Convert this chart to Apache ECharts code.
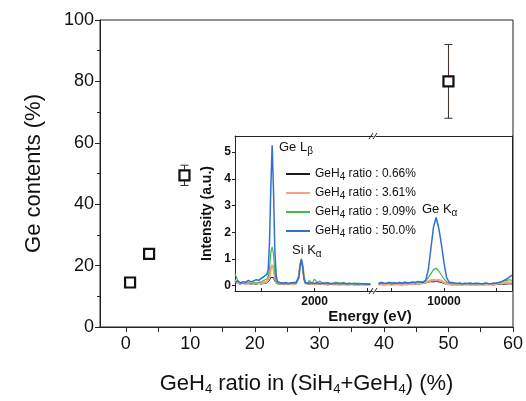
<!DOCTYPE html>
<html>
<head>
<meta charset="utf-8">
<script src="https://cdn.jsdelivr.net/npm/echarts@6/dist/echarts.min.js"></script>
<style>
    html, body { margin: 0; padding: 0; background: #fff; }
    #chart-container { width: 526px; height: 401px; }
</style>
</head>
<body>
<div id="chart-container"></div>
<script>
// main plot: Ge content vs GeH4 ratio
var ratioValues = [0.66, 3.61, 9.09, 50.0];
var geContents = [14.5, 23.8, 49.4, 80.0];
var geErrors = [0, 0, 3.3, 12];

var xTickValues = [0, 5, 10, 15, 20, 25, 30, 35, 40, 45, 50, 55, 60];
var xLabelValues = [0, 10, 20, 30, 40, 50, 60];

// inset: EDX spectra, axis broken between 3100 and 8700 eV
var spectraNames = ['GeH4 ratio : 0.66%', 'GeH4 ratio : 3.61%', 'GeH4 ratio : 9.09%', 'GeH4 ratio : 50.0%'];
var spectraColors = ['#1c1c1c', '#f6a383', '#3fba4e', '#2f6fd6'];
var spectraWidths = [1, 2.2, 1.2, 1.5];

var insetYValues = [0, 1, 2, 3, 4, 5];

var leftEnergy = [500, 550, 600, 650, 700, 750, 800, 850, 900, 950, 1000, 1050,
    1075, 1100, 1125, 1150, 1175, 1200, 1225, 1250, 1275, 1300, 1325, 1350, 1375, 1400,
    1450, 1500, 1550, 1600,
    1625, 1650, 1675, 1700, 1725, 1750, 1775, 1800, 1825, 1850, 1875, 1900,
    1950, 2000, 2050, 2100, 2150, 2200, 2250, 2300, 2350, 2400, 2450, 2500, 2550, 2600, 2650, 2700, 2750, 2800, 2850, 2900, 2950, 3000, 3050];

var leftBlack = [0.15, 0.08, 0.06, 0.09, 0.05, 0.08, 0.06, 0.07, 0.05, 0.08, 0.06, 0.09,
    0.08, 0.10, 0.12, 0.20, 0.31, 0.36, 0.30, 0.17, 0.09, 0.05, 0.06, 0.04, 0.05, 0.06,
    0.05, 0.04, 0.06, 0.05,
    0.06, 0.07, 0.12, 0.35, 0.80, 1.00, 0.70, 0.25, 0.08, 0.05, 0.06, 0.04,
    0.05, 0.04, 0.06, 0.05, 0.04, 0.05, 0.03, 0.05, 0.04, 0.05, 0.03, 0.04, 0.05, 0.03, 0.04, 0.05, 0.03, 0.04, 0.03, 0.04, 0.03, 0.04, 0.03];
var leftOrange = [0.20, 0.10, 0.08, 0.10, 0.06, 0.09, 0.07, 0.10, 0.08, 0.10, 0.09, 0.12,
    0.10, 0.14, 0.20, 0.35, 0.64, 0.78, 0.66, 0.34, 0.12, 0.06, 0.08, 0.05, 0.07, 0.06,
    0.08, 0.05, 0.07, 0.06,
    0.08, 0.07, 0.10, 0.30, 0.75, 1.00, 0.75, 0.30, 0.10, 0.06, 0.08, 0.05,
    0.07, 0.05, 0.08, 0.06, 0.07, 0.05, 0.06, 0.07, 0.05, 0.06, 0.04, 0.06, 0.05, 0.07, 0.04, 0.06, 0.05, 0.04, 0.06, 0.05, 0.04, 0.05, 0.04];
var leftGreen = [0.45, 0.20, 0.10, 0.08, 0.12, 0.10, 0.07, 0.12, 0.10, 0.12, 0.15, 0.20,
    0.18, 0.25, 0.34, 0.65, 1.25, 1.45, 1.20, 0.55, 0.18, 0.08, 0.12, 0.06, 0.10, 0.08,
    0.10, 0.06, 0.12, 0.08,
    0.10, 0.08, 0.12, 0.28, 0.70, 0.95, 0.72, 0.28, 0.12, 0.10, 0.08, 0.20,
    0.08, 0.25, 0.10, 0.18, 0.07, 0.12, 0.06, 0.10, 0.08, 0.14, 0.06, 0.10, 0.12, 0.07, 0.10, 0.08, 0.06, 0.10, 0.07, 0.09, 0.06, 0.08, 0.05];
var leftBlue = [0.12, 0.18, 0.10, 0.15, 0.12, 0.20, 0.14, 0.18, 0.22, 0.20, 0.28, 0.35,
    0.32, 0.42, 0.60, 1.60, 3.70, 5.25, 3.60, 1.35, 0.40, 0.15, 0.10, 0.12, 0.08, 0.10,
    0.12, 0.08, 0.10, 0.12,
    0.10, 0.12, 0.15, 0.30, 0.72, 0.98, 0.70, 0.25, 0.10, 0.08, 0.10, 0.06,
    0.10, 0.08, 0.12, 0.07, 0.10, 0.08, 0.11, 0.06, 0.09, 0.08, 0.10, 0.07, 0.09, 0.06, 0.08, 0.07, 0.09, 0.05, 0.08, 0.06, 0.07, 0.05, 0.06];

var rightEnergy = [8750, 8800, 8850, 8900, 8950, 9000, 9050, 9100, 9150, 9200,
    9250, 9300, 9350, 9400, 9450, 9500, 9550, 9600, 9650, 9700,
    9750, 9800, 9850, 9900, 9950, 10000, 10050, 10100, 10150, 10200,
    10250, 10300, 10350, 10400, 10450, 10500, 10550, 10600, 10650, 10700,
    10750, 10800, 10850, 10900, 10950, 11000, 11050, 11100, 11150, 11200,
    11250, 11300];

var rightBlack = [0.04, 0.05, 0.03, 0.04, 0.05, 0.03, 0.04, 0.05, 0.04, 0.03,
    0.05, 0.04, 0.05, 0.06, 0.05, 0.06, 0.07, 0.08, 0.10, 0.13,
    0.15, 0.14, 0.16, 0.14, 0.12, 0.08, 0.06, 0.04, 0.03, 0.04,
    0.03, 0.04, 0.03, 0.04, 0.05, 0.03, 0.04, 0.03, 0.04, 0.05,
    0.03, 0.04, 0.05, 0.04, 0.03, 0.04, 0.05, 0.06, 0.05, 0.06,
    0.07, 0.06];
var rightOrange = [0.05, 0.06, 0.04, 0.05, 0.06, 0.04, 0.05, 0.06, 0.05, 0.04,
    0.06, 0.05, 0.07, 0.06, 0.08, 0.07, 0.09, 0.10, 0.12, 0.16,
    0.20, 0.22, 0.20, 0.22, 0.18, 0.12, 0.08, 0.06, 0.05, 0.04,
    0.05, 0.04, 0.06, 0.05, 0.04, 0.05, 0.06, 0.04, 0.05, 0.04,
    0.05, 0.06, 0.04, 0.05, 0.06, 0.07, 0.08, 0.09, 0.10, 0.12,
    0.11, 0.12];
var rightGreen = [0.10, 0.07, 0.09, 0.08, 0.10, 0.06, 0.09, 0.08, 0.10, 0.07,
    0.09, 0.10, 0.08, 0.12, 0.10, 0.14, 0.12, 0.15, 0.18, 0.30,
    0.45, 0.60, 0.65, 0.55, 0.40, 0.25, 0.14, 0.10, 0.08, 0.07,
    0.09, 0.06, 0.08, 0.07, 0.09, 0.06, 0.08, 0.10, 0.07, 0.08,
    0.06, 0.09, 0.07, 0.08, 0.10, 0.09, 0.12, 0.14, 0.18, 0.20,
    0.22, 0.20];
var rightBlue = [0.08, 0.12, 0.10, 0.09, 0.12, 0.10, 0.11, 0.09, 0.12, 0.10,
    0.13, 0.11, 0.12, 0.14, 0.12, 0.16, 0.14, 0.12, 0.20, 0.60,
    1.40, 2.20, 2.55, 2.15, 1.55, 0.85, 0.30, 0.12, 0.12, 0.10,
    0.08, 0.10, 0.07, 0.09, 0.08, 0.10, 0.07, 0.08, 0.09, 0.07,
    0.08, 0.10, 0.08, 0.07, 0.09, 0.10, 0.12, 0.15, 0.20, 0.25,
    0.32, 0.40];

var FONT = '"Liberation Sans", Arial, sans-serif';

var chart;

$ready(function () {
    chart = echarts.init(document.getElementById('chart-container'), null, { renderer: 'canvas' });
    chart.setOption(buildOption());
});

function $ready(fn) {
    if (document.readyState !== 'loading') fn();
    else document.addEventListener('DOMContentLoaded', fn);
}

function pairs(xs, ys) {
    return xs.map(function (x, i) {
        return [x, ys[i]];
    });
}

function subscriptName(name) {
    // "GeH4 ratio : .." -> rich text with subscript 4
    return '{n|GeH}{s|4}{n|' + name.substring(4) + '}';
}

function plainNumber(value) {
    return String(value);
}

function renderErrorBar(params, api) {
    var x = api.value(0);
    var top = api.coord([x, api.value(2)]);
    var bottom = api.coord([x, api.value(1)]);
    var cap = 4;
    var style = { stroke: '#3a2a24', lineWidth: 1 };
    return {
        type: 'group',
        children: [
            { type: 'line', shape: { x1: top[0], y1: top[1], x2: bottom[0], y2: bottom[1] }, style: style },
            { type: 'line', shape: { x1: top[0] - cap, y1: top[1], x2: top[0] + cap, y2: top[1] }, style: style },
            { type: 'line', shape: { x1: bottom[0] - cap, y1: bottom[1], x2: bottom[0] + cap, y2: bottom[1] }, style: style }
        ]
    };
}

function insetLine(name, data, index, gridSide) {
    return {
        name: name,
        type: 'line',
        xAxisIndex: gridSide,
        yAxisIndex: gridSide,
        data: data,
        showSymbol: false,
        symbol: 'none',
        silent: true,
        animation: false,
        z: 3 + index,
        lineStyle: { color: spectraColors[index], width: spectraWidths[index] },
        itemStyle: { color: spectraColors[index] }
    };
}

function buildOption() {
    var errorData = [];
    ratioValues.forEach(function (x, i) {
        if (geErrors[i] > 0) {
            errorData.push([x, geContents[i] - geErrors[i], geContents[i] + geErrors[i]]);
        }
    });

    var leftSets = [leftBlack, leftOrange, leftGreen, leftBlue];
    var rightSets = [rightBlack, rightOrange, rightGreen, rightBlue];

    var series = [{
        type: 'custom',
        xAxisIndex: 0,
        yAxisIndex: 0,
        renderItem: renderErrorBar,
        data: errorData,
        silent: true,
        z: 2
    }, {
        type: 'scatter',
        xAxisIndex: 0,
        yAxisIndex: 0,
        symbol: 'rect',
        symbolSize: 10,
        data: pairs(ratioValues, geContents),
        itemStyle: { color: '#fff', borderColor: '#111', borderWidth: 2.2, opacity: 1 },
        silent: true,
        z: 4
    }];

    spectraNames.forEach(function (name, i) {
        series.push(insetLine(name, pairs(leftEnergy, leftSets[i]), i, 1));
        series.push(insetLine(name, pairs(rightEnergy, rightSets[i]), i, 2));
    });

    var legendItems = spectraNames.map(function (name, i) {
        return { name: name, itemStyle: { color: spectraColors[i], borderWidth: 0 } };
    });

    var insetTop = 136;
    var insetHeight = 155;
    var axisLine = { show: true, onZero: false, lineStyle: { color: '#222', width: 1 } };
    var noLabel = { show: false };
    var noTick = { show: false };

    return {
        backgroundColor: '#fff',
        animation: false,
        textStyle: { fontFamily: FONT },
        grid: [{
            left: 100, top: 20, right: 11, bottom: 74,
            show: true, borderColor: '#222', borderWidth: 1, backgroundColor: 'transparent'
        }, {
            left: 235, top: insetTop, width: 138, height: insetHeight
        }, {
            left: 376, top: insetTop, width: 136, height: insetHeight
        }],
        xAxis: [{
            gridIndex: 0,
            type: 'value',
            min: -4,
            max: 60,
            splitLine: { show: false },
            axisLine: axisLine,
            axisTick: { show: true, inside: false, length: 5, customValues: xTickValues, lineStyle: { color: '#222' } },
            axisLabel: { customValues: xLabelValues, color: '#111', fontSize: 18, margin: 8, fontFamily: FONT },
            name: 'GeH{s|4} ratio in (SiH{s|4}+GeH{s|4}) (%)',
            nameLocation: 'middle',
            nameGap: 44,
            nameTextStyle: {
                color: '#111', fontSize: 22, fontFamily: FONT,
                rich: { s: { fontSize: 13, color: '#111', fontFamily: FONT, padding: [12, 0, 0, 0] } }
            }
        }, {
            gridIndex: 1,
            type: 'value',
            min: 500,
            max: 3100,
            splitLine: { show: false },
            axisLine: axisLine,
            axisTick: { show: true, inside: true, length: 3, customValues: [1000, 2000, 3000], lineStyle: { color: '#222' } },
            axisLabel: { customValues: [2000], formatter: plainNumber, color: '#111', fontSize: 12, fontWeight: 'bold', margin: 5, fontFamily: FONT }
        }, {
            gridIndex: 2,
            type: 'value',
            min: 8700,
            max: 11300,
            splitLine: { show: false },
            axisLine: axisLine,
            axisTick: { show: true, inside: true, length: 3, customValues: [9000, 10000, 11000], lineStyle: { color: '#222' } },
            axisLabel: { customValues: [10000], formatter: plainNumber, color: '#111', fontSize: 12, fontWeight: 'bold', margin: 5, fontFamily: FONT }
        }, {
            gridIndex: 1, type: 'value', position: 'top', min: 500, max: 3100,
            axisLine: axisLine, axisTick: noTick, axisLabel: noLabel, splitLine: { show: false }
        }, {
            gridIndex: 2, type: 'value', position: 'top', min: 8700, max: 11300,
            axisLine: axisLine, axisTick: noTick, axisLabel: noLabel, splitLine: { show: false }
        }],
        yAxis: [{
            gridIndex: 0,
            type: 'value',
            min: 0,
            max: 100,
            interval: 20,
            splitLine: { show: false },
            axisLine: axisLine,
            axisTick: { show: true, inside: false, length: 5, lineStyle: { color: '#222' } },
            minorTick: { show: true, splitNumber: 2, length: 3, lineStyle: { color: '#222' } },
            axisLabel: { color: '#111', fontSize: 18, margin: 6, fontFamily: FONT },
            name: 'Ge contents (%)',
            nameLocation: 'middle',
            nameGap: 55,
            nameTextStyle: { color: '#111', fontSize: 22, fontFamily: FONT }
        }, {
            gridIndex: 1,
            type: 'value',
            min: -0.2,
            max: 5.6,
            splitLine: { show: false },
            axisLine: axisLine,
            axisTick: { show: true, inside: false, length: 3, customValues: insetYValues, lineStyle: { color: '#222' } },
            axisLabel: { customValues: insetYValues, color: '#111', fontSize: 12, fontWeight: 'bold', margin: 4, fontFamily: FONT },
            name: 'Intensity (a.u.)',
            nameLocation: 'middle',
            nameGap: 21,
            nameTextStyle: { color: '#111', fontSize: 14, fontWeight: 'bold', fontFamily: FONT }
        }, {
            gridIndex: 2,
            type: 'value',
            position: 'right',
            min: -0.2,
            max: 5.6,
            splitLine: { show: false },
            axisLine: axisLine,
            axisTick: noTick,
            axisLabel: noLabel
        }],
        legend: {
            data: legendItems,
            orient: 'vertical',
            left: 286,
            top: 168,
            padding: 0,
            icon: 'rect',
            itemWidth: 24,
            itemHeight: 2,
            itemGap: 5,
            selectedMode: false,
            formatter: subscriptName,
            textStyle: {
                color: '#111', fontSize: 12, fontFamily: FONT,
                rich: {
                    n: { fontSize: 12, color: '#111', fontFamily: FONT },
                    s: { fontSize: 10, color: '#111', fontFamily: FONT, padding: [6, 0, 0, 0] }
                }
            }
        },
        graphic: [{
            type: 'text', left: 279, top: 141,
            style: {
                text: 'Ge L{s|β}', fill: '#111', font: '13px ' + FONT,
                rich: { s: { fontSize: 10, fill: '#111', fontFamily: FONT, padding: [7, 0, 0, 0] } }
            }
        }, {
            type: 'text', left: 292, top: 244,
            style: {
                text: 'Si K{s|α}', fill: '#111', font: '13px ' + FONT,
                rich: { s: { fontSize: 10, fill: '#111', fontFamily: FONT, padding: [7, 0, 0, 0] } }
            }
        }, {
            type: 'text', left: 422, top: 203,
            style: {
                text: 'Ge K{s|α}', fill: '#111', font: '13px ' + FONT,
                rich: { s: { fontSize: 10, fill: '#111', fontFamily: FONT, padding: [7, 0, 0, 0] } }
            }
        }, {
            type: 'text', x: 370, y: 317,
            style: { text: 'Energy (eV)', fill: '#111', font: 'bold 15px ' + FONT, textAlign: 'center', textVerticalAlign: 'middle' }
        }, {
            // axis break marks
            type: 'group',
            children: [
                { type: 'line', shape: { x1: 369, y1: 139, x2: 373, y2: 133 }, style: { stroke: '#222', lineWidth: 1 } },
                { type: 'line', shape: { x1: 373, y1: 139, x2: 377, y2: 133 }, style: { stroke: '#222', lineWidth: 1 } },
                { type: 'line', shape: { x1: 369, y1: 294, x2: 373, y2: 288 }, style: { stroke: '#222', lineWidth: 1 } },
                { type: 'line', shape: { x1: 373, y1: 294, x2: 377, y2: 288 }, style: { stroke: '#222', lineWidth: 1 } }
            ]
        }],
        series: series
    };
}
</script>
</body>
</html>
